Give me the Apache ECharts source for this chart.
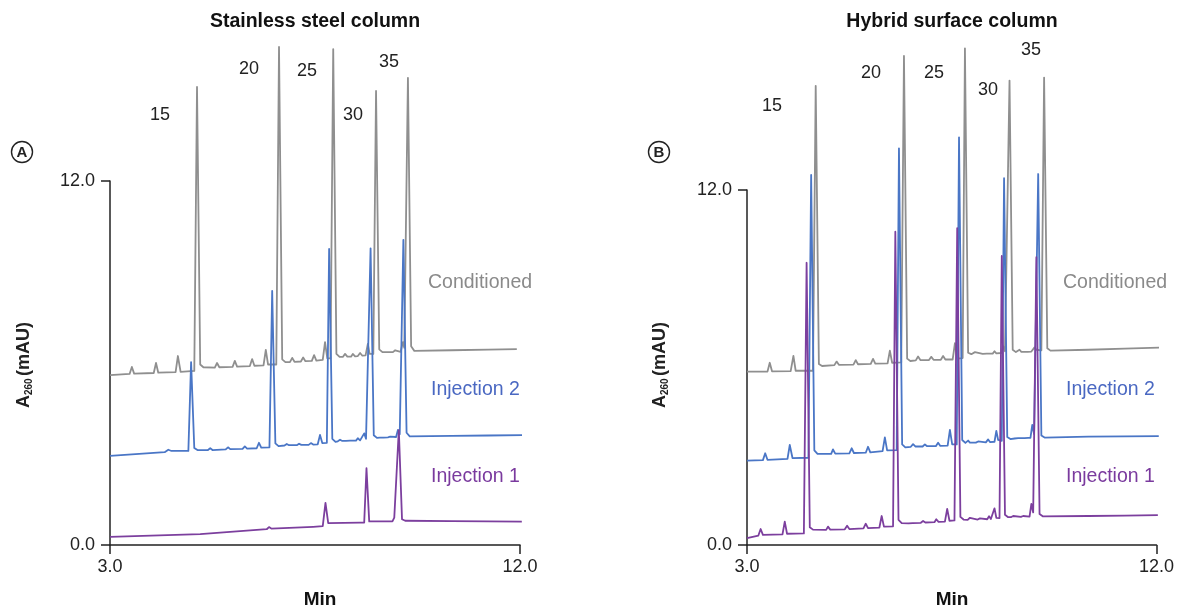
<!DOCTYPE html>
<html>
<head>
<meta charset="utf-8">
<script src="https://cdn.jsdelivr.net/npm/echarts@6/dist/echarts.min.js"></script>
<style>
html,body{margin:0;padding:0;background:#fff;}
#chart{width:1177px;height:608px;}
</style>
</head>
<body>
<div id="chart"></div>
<script>
// ---- Data (time in min, absorbance in mAU) ----
const xTicks = [3, 12];
const yTicks = [0, 12];
const peakLabels = ['15', '20', '25', '30', '35'];
const seriesNames = ['Conditioned', 'Injection 2', 'Injection 1'];

// Panel A: stainless steel column
const condA = [
[3.00,5.60],[3.43,5.64],[3.48,5.87],[3.53,5.65],[3.96,5.67],[4.01,6.00],[4.06,5.68],[4.44,5.70],[4.49,6.23],[4.55,5.71],
[4.85,5.74],[4.91,15.10],[4.98,5.95],[5.05,5.86],
[5.30,5.85],[5.35,6.00],[5.40,5.86],[5.69,5.87],[5.74,6.07],[5.79,5.88],[6.07,5.90],[6.12,6.13],[6.17,5.91],[6.37,5.92],[6.42,6.43],[6.47,5.95],
[6.65,5.95],[6.71,16.42],[6.78,6.12],[6.85,6.03],
[6.95,6.03],[7.00,6.17],[7.05,6.04],[7.19,6.05],[7.24,6.18],[7.29,6.06],[7.43,6.07],[7.48,6.26],[7.53,6.08],[7.67,6.10],[7.72,6.69],[7.77,6.15],
[7.84,6.15],[7.90,16.35],[7.97,6.30],[8.04,6.20],
[8.11,6.20],[8.16,6.30],[8.21,6.21],[8.29,6.21],[8.33,6.30],[8.38,6.22],[8.44,6.23],[8.49,6.33],[8.54,6.24],[8.61,6.25],[8.66,6.63],[8.70,6.30],
[8.78,6.30],[8.84,14.97],[8.91,6.45],[8.98,6.36],
[9.04,6.36],[9.08,6.42],[9.12,6.36],[9.21,6.36],[9.26,6.42],[9.30,6.37],[9.38,6.37],[9.43,6.69],[9.46,6.50],
[9.54,15.40],[9.61,6.55],[9.68,6.40],
[10.5,6.42],[11.3,6.44],[11.93,6.46]
];
const inj2A = [
[3.00,2.94],[4.20,3.06],[4.28,3.14],[4.35,3.10],
[4.72,3.10],[4.78,6.03],[4.85,3.20],[4.92,3.13],
[5.15,3.13],[5.20,3.19],[5.25,3.13],[5.54,3.15],[5.59,3.22],[5.64,3.16],[5.91,3.17],[5.96,3.25],[6.01,3.18],[6.22,3.19],[6.27,3.37],[6.32,3.21],
[6.50,3.22],[6.56,8.38],[6.63,3.35],[6.70,3.26],
[6.83,3.28],[6.88,3.33],[6.93,3.29],[7.10,3.29],[7.15,3.34],[7.20,3.30],[7.36,3.30],[7.41,3.36],[7.46,3.31],[7.56,3.32],[7.61,3.63],[7.66,3.36],
[7.76,3.37],[7.81,9.76],[7.88,3.50],[7.95,3.40],
[8.00,3.42],[8.05,3.47],[8.10,3.43],[8.18,3.43],[8.22,3.47],[8.27,3.44],[8.40,3.44],[8.44,3.52],[8.49,3.45],[8.53,3.46],[8.58,3.68],[8.62,3.50],
[8.72,9.78],[8.79,3.62],[8.86,3.53],
[8.92,3.54],[8.96,3.57],[9.00,3.54],[9.10,3.55],[9.15,3.57],[9.19,3.55],[9.28,3.56],[9.32,3.79],[9.36,3.65],
[9.44,10.06],[9.51,3.70],[9.58,3.58],
[10.5,3.60],[11.3,3.61],[12.13,3.62]
];
const inj1A = [
[3.00,0.27],[4.98,0.36],[6.44,0.52],[6.49,0.59],[6.54,0.54],[7.46,0.60],
[7.67,0.62],[7.73,1.39],[7.79,0.72],
[8.49,0.74],[8.58,0.74],[8.63,2.53],[8.69,0.78],
[9.20,0.78],[9.24,0.90],[9.28,0.85],
[9.34,3.79],[9.41,0.85],[9.48,0.80],
[10.5,0.79],[11.3,0.78],[12.04,0.77]
];

// Panel B: hybrid surface column
const condB = [
[3.00,5.86],[3.45,5.86],[3.50,6.16],[3.55,5.87],[3.96,5.88],[4.02,6.39],[4.07,5.89],
[4.45,5.89],[4.51,15.52],[4.58,6.12],[4.65,6.05],
[4.92,6.08],[4.97,6.20],[5.02,6.09],[5.34,6.10],[5.39,6.25],[5.44,6.11],[5.72,6.12],[5.77,6.29],[5.82,6.13],[6.09,6.14],[6.14,6.57],[6.19,6.16],
[6.39,6.17],[6.45,16.53],[6.52,6.30],[6.59,6.22],
[6.71,6.24],[6.76,6.37],[6.81,6.25],[7.00,6.25],[7.05,6.36],[7.10,6.26],[7.26,6.26],[7.31,6.39],[7.36,6.27],[7.52,6.27],[7.57,6.82],[7.62,6.30],
[7.74,6.32],[7.79,16.79],[7.86,6.50],[7.93,6.45],
[7.97,6.45],[8.01,6.52],[8.05,6.46],[8.18,6.46],[8.22,6.51],[8.27,6.47],[8.40,6.47],[8.44,6.55],[8.48,6.48],[8.59,6.49],[8.63,6.72],[8.67,6.55],
[8.77,15.70],[8.84,6.60],[8.91,6.52],
[8.95,6.52],[8.99,6.60],[9.03,6.53],[9.17,6.53],[9.21,6.59],[9.25,6.54],[9.29,6.55],[9.32,6.68],[9.36,6.60],
[9.47,6.58],[9.53,15.80],[9.60,6.65],[9.67,6.57],
[10.5,6.60],[11.3,6.64],[12.20,6.68]
];
const inj2B = [
[3.00,2.85],[3.35,2.87],[3.40,3.10],[3.45,2.88],[3.89,2.91],[3.94,3.38],[4.00,2.94],
[4.35,2.95],[4.41,12.51],[4.48,3.20],[4.55,3.08],
[4.85,3.08],[4.89,3.23],[4.94,3.09],[5.25,3.10],[5.30,3.27],[5.35,3.11],[5.61,3.12],[5.66,3.32],[5.71,3.13],[5.98,3.17],[6.03,3.64],[6.08,3.20],
[6.29,3.21],[6.34,13.41],[6.41,3.40],[6.48,3.30],
[6.60,3.32],[6.65,3.41],[6.70,3.33],[6.86,3.33],[6.91,3.40],[6.96,3.34],[7.15,3.34],[7.20,3.46],[7.25,3.35],[7.41,3.36],[7.46,3.89],[7.51,3.40],
[7.61,3.40],[7.66,13.78],[7.73,3.55],[7.80,3.45],
[7.82,3.45],[7.86,3.53],[7.90,3.46],[8.03,3.46],[8.08,3.50],[8.12,3.47],[8.25,3.47],[8.30,3.57],[8.34,3.48],[8.44,3.49],[8.48,3.86],[8.52,3.55],
[8.60,3.52],[8.65,12.40],[8.72,3.65],[8.79,3.58],
[8.88,3.60],[8.92,3.65],[8.96,3.61],[9.10,3.61],[9.14,3.65],[9.18,3.62],[9.23,3.62],[9.27,4.06],[9.31,3.75],
[9.40,12.54],[9.47,3.70],[9.54,3.63],
[10.5,3.66],[11.3,3.67],[12.05,3.68]
];
const inj1B = [
[3.00,0.23],[3.25,0.32],[3.30,0.54],[3.35,0.34],[3.78,0.36],[3.83,0.79],[3.88,0.38],
[4.25,0.39],[4.31,9.54],[4.38,0.60],[4.45,0.52],
[4.74,0.51],[4.78,0.62],[4.83,0.52],[5.15,0.53],[5.20,0.65],[5.25,0.54],[5.56,0.56],[5.61,0.72],[5.66,0.57],[5.91,0.59],[5.96,0.98],[6.01,0.62],
[6.21,0.63],[6.26,10.59],[6.33,0.85],[6.40,0.74],
[6.55,0.73],[6.59,0.78],[6.64,0.74],[6.82,0.75],[6.87,0.81],[6.92,0.76],[7.12,0.77],[7.16,0.87],[7.21,0.78],[7.35,0.79],[7.40,1.22],[7.45,0.82],
[7.56,0.83],[7.62,10.71],[7.69,0.95],[7.76,0.86],
[7.85,0.85],[7.90,0.92],[7.94,0.86],[8.07,0.86],[8.12,0.90],[8.16,0.87],[8.28,0.87],[8.32,0.97],[8.36,0.88],[8.40,0.89],[8.44,1.24],[8.48,0.92],
[8.55,0.91],[8.60,9.77],[8.67,1.02],[8.74,0.94],
[8.80,0.94],[8.85,0.98],[8.89,0.95],[9.02,0.95],[9.07,0.98],[9.11,0.96],[9.21,0.96],[9.25,1.39],[9.29,1.10],
[9.36,9.73],[9.43,1.05],[9.50,0.97],
[10.5,0.98],[11.3,0.99],[12.03,1.01]
];

// ---- Styles ----
const FONT = '"Liberation Sans", Arial, Helvetica, sans-serif';
const cGray = '#8f8f8f', cBlue = '#4a76c6', cPurple = '#7c3f9e';
const lblColors = ['#8a8a8a', '#4a68c2', '#7a3a9e'];
const axisColor = '#222';

const chart = echarts.init(document.getElementById('chart'), null, {renderer: 'canvas'});

function xAx(gi) {
  return {
    type: 'value', gridIndex: gi, min: xTicks[0], max: xTicks[1], interval: xTicks[1] - xTicks[0],
    axisLine: {show: true, lineStyle: {color: axisColor, width: 1.5}},
    axisTick: {show: true, length: 9, inside: false, lineStyle: {color: axisColor, width: 1.5}},
    axisLabel: {show: true, margin: 13, color: '#222', fontSize: 18, fontFamily: FONT,
      formatter: v => v.toFixed(1)},
    splitLine: {show: false}
  };
}
function yAx(gi) {
  return {
    type: 'value', gridIndex: gi, min: yTicks[0], max: yTicks[1], interval: yTicks[1] - yTicks[0],
    axisLine: {show: true, onZero: false, lineStyle: {color: axisColor, width: 1.5}},
    axisTick: {show: true, length: 9, inside: false, lineStyle: {color: axisColor, width: 1.5}},
    axisLabel: {show: true, margin: 15, color: '#222', fontSize: 18, fontFamily: FONT,
      formatter: v => v.toFixed(1)},
    splitLine: {show: false}
  };
}
function line(name, data, gi, color) {
  return {
    name: name, type: 'line', xAxisIndex: gi, yAxisIndex: gi, data: data,
    showSymbol: false, symbol: 'none', clip: false, smooth: false,
    lineStyle: {color: color, width: 1.8, join: 'round'}, emphasis: {disabled: true}, z: 2
  };
}

function txt(x, y, text, font, fill, align) {
  return {type: 'text', x: x, y: y, silent: true,
    style: {text: text, font: font, fill: fill, align: align || 'center', verticalAlign: 'middle',
      textAlign: align || 'center', textVerticalAlign: 'middle'}};
}
function yName(x, yBottom) {
  return {type: 'group', x: x, y: yBottom, rotation: Math.PI / 2, silent: true, children: [
    {type: 'text', x: 0, y: 0, style: {text: 'A', font: 'bold 18px ' + FONT, fill: '#222', align: 'left', verticalAlign: 'middle', textAlign: 'left', textVerticalAlign: 'middle'}},
    {type: 'text', x: 13, y: 5.5, style: {text: '260', font: 'bold 10px ' + FONT, fill: '#222', align: 'left', verticalAlign: 'middle', textAlign: 'left', textVerticalAlign: 'middle'}},
    {type: 'text', x: 32, y: 0, style: {text: '(mAU)', font: 'bold 18px ' + FONT, fill: '#222', align: 'left', verticalAlign: 'middle', textAlign: 'left', textVerticalAlign: 'middle'}}
  ]};
}
function badge(cx, cy, letter) {
  return {type: 'group', silent: true, children: [
    {type: 'circle', shape: {cx: cx, cy: cy, r: 10.5}, style: {fill: 'none', stroke: '#222', lineWidth: 1.4}},
    txt(cx, cy + 0.5, letter, 'bold 15px ' + FONT, '#222')
  ]};
}

const peakFont = '18px ' + FONT;
const lblFont = '19.5px ' + FONT;
const graphics = [
  txt(315, 22, 'Stainless steel column', 'bold 19.5px ' + FONT, '#111'),
  txt(952, 22, 'Hybrid surface column', 'bold 19.5px ' + FONT, '#111'),
  badge(22, 152, 'A'), badge(659, 152, 'B'),
  yName(24, 408), yName(660, 408),
  txt(320, 600, 'Min', 'bold 19px ' + FONT, '#111'),
  txt(952, 600, 'Min', 'bold 19px ' + FONT, '#111'),
  // peak labels A
  txt(160, 115, peakLabels[0], peakFont, '#222'),
  txt(249, 69, peakLabels[1], peakFont, '#222'),
  txt(307, 71, peakLabels[2], peakFont, '#222'),
  txt(353, 115, peakLabels[3], peakFont, '#222'),
  txt(389, 62, peakLabels[4], peakFont, '#222'),
  // peak labels B
  txt(772, 106, peakLabels[0], peakFont, '#222'),
  txt(871, 73, peakLabels[1], peakFont, '#222'),
  txt(934, 73, peakLabels[2], peakFont, '#222'),
  txt(988, 90, peakLabels[3], peakFont, '#222'),
  txt(1031, 50, peakLabels[4], peakFont, '#222'),
  // trace labels A
  txt(428, 283, seriesNames[0], lblFont, lblColors[0], 'left'),
  txt(431, 390, seriesNames[1], lblFont, lblColors[1], 'left'),
  txt(431, 477, seriesNames[2], lblFont, lblColors[2], 'left'),
  // trace labels B
  txt(1063, 283, seriesNames[0], lblFont, lblColors[0], 'left'),
  txt(1066, 390, seriesNames[1], lblFont, lblColors[1], 'left'),
  txt(1066, 477, seriesNames[2], lblFont, lblColors[2], 'left')
];

chart.setOption({
  animation: false,
  backgroundColor: '#fff',
  textStyle: {fontFamily: FONT},
  grid: [
    {left: 110, right: 1177 - 520, top: 181, bottom: 608 - 545, containLabel: false},
    {left: 747, right: 1177 - 1157, top: 190, bottom: 608 - 545, containLabel: false}
  ],
  xAxis: [xAx(0), xAx(1)],
  yAxis: [yAx(0), yAx(1)],
  series: [
    line(seriesNames[0] + ' A', condA, 0, cGray),
    line(seriesNames[1] + ' A', inj2A, 0, cBlue),
    line(seriesNames[2] + ' A', inj1A, 0, cPurple),
    line(seriesNames[0] + ' B', condB, 1, cGray),
    line(seriesNames[1] + ' B', inj2B, 1, cBlue),
    line(seriesNames[2] + ' B', inj1B, 1, cPurple)
  ],
  graphic: graphics
});
</script>
</body>
</html>
